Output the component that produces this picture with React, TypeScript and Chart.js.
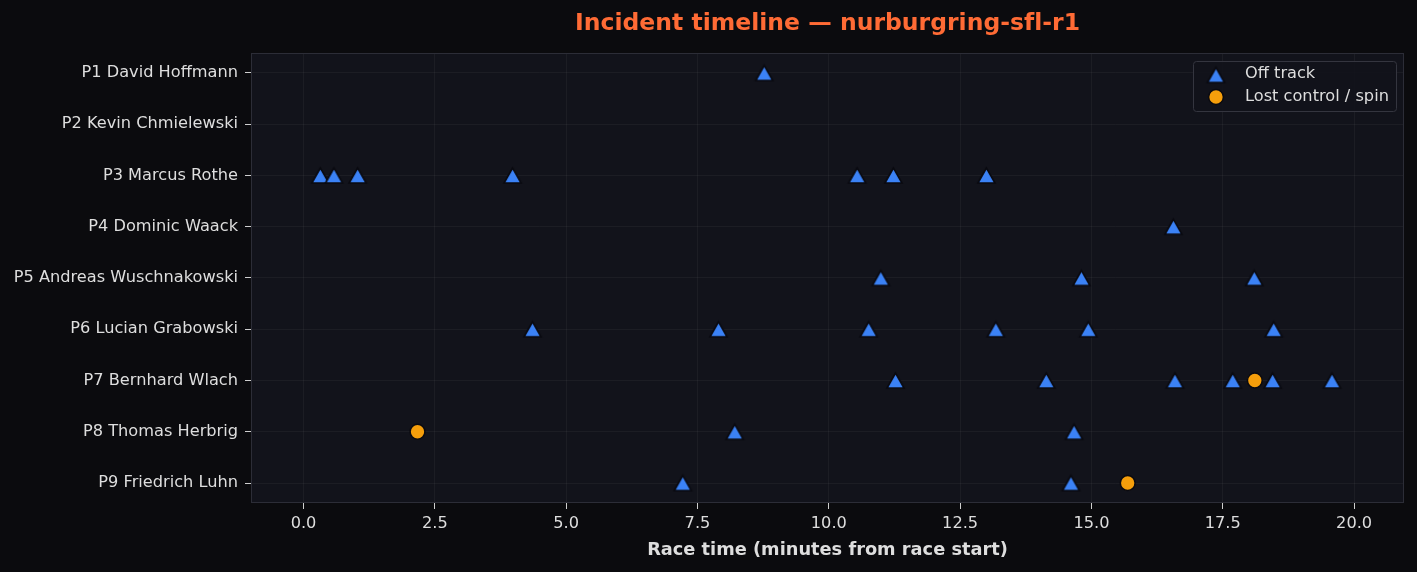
import React, { useEffect, useRef } from 'react';
import { Chart, registerables } from 'chart.js';

Chart.register(...registerables);

const drivers = [
  'P1 David Hoffmann',
  'P2 Kevin Chmielewski',
  'P3 Marcus Rothe',
  'P4 Dominic Waack',
  'P5 Andreas Wuschnakowski',
  'P6 Lucian Grabowski',
  'P7 Bernhard Wlach',
  'P8 Thomas Herbrig',
  'P9 Friedrich Luhn',
];

// minutes from race start, one list per driver (same order as drivers)
const offTrackTimes: number[][] = [
  [8.77],
  [],
  [0.32, 0.58, 1.03, 3.98, 10.54, 11.23, 13.0],
  [16.56],
  [10.99, 14.81, 18.1],
  [4.36, 7.9, 10.76, 13.18, 14.94, 18.47],
  [11.27, 14.14, 16.59, 17.69, 18.45, 19.58],
  [8.21, 14.67],
  [7.22, 14.61],
];

const spinTimes: number[][] = [[], [], [], [], [], [], [18.11], [2.17], [15.69]];

const xTicks = [0, 2.5, 5, 7.5, 10, 12.5, 15, 17.5, 20];
const xMin = -1.0;
const xMax = 20.95;

const seriesLabels = ['Off track', 'Lost control / spin'];
const titleText = 'Incident timeline \u2014 nurburgring-sfl-r1';
const xTitle = 'Race time (minutes from race start)';

const BLUE = '#3b82f6';
const ORANGE = '#f59e0b';
const PAGE_BG = '#0b0b0e';
const PLOT_BG = '#12131b';
const EDGE = '#0a0a10';
const TEXT = '#dedede';
const FONT = "'DejaVu Sans', sans-serif";

function toPoints(lists: number[][]) {
  const pts: { x: number; y: number }[] = [];
  lists.forEach((l, i) => l.forEach((x) => pts.push({ x, y: i })));
  return pts;
}

function makeTriangle(w: number, h: number): HTMLCanvasElement {
  const c = document.createElement('canvas');
  const pad = 3;
  c.width = w + pad * 2;
  c.height = h + pad * 2;
  const g = c.getContext('2d')!;
  const cx = c.width / 2;
  const cy = c.height / 2;
  g.beginPath();
  g.moveTo(cx, cy - h / 2);
  g.lineTo(cx - w / 2, cy + h / 2);
  g.lineTo(cx + w / 2, cy + h / 2);
  g.closePath();
  g.fillStyle = BLUE;
  g.fill();
  g.lineJoin = 'miter';
  g.strokeStyle = EDGE;
  g.lineWidth = 1.6;
  g.stroke();
  return c;
}

function makeDecor(tri: HTMLCanvasElement) {
  return {
    id: 'decor',
    beforeDraw(chart: any) {
      const { ctx, chartArea: a, width, height } = chart;
      ctx.save();
      ctx.fillStyle = PAGE_BG;
      ctx.fillRect(0, 0, width, height);
      ctx.fillStyle = PLOT_BG;
      ctx.fillRect(a.left, a.top, a.right - a.left, a.bottom - a.top);
      ctx.restore();
    },
    afterDraw(chart: any) {
      const { ctx, chartArea: a } = chart;
      ctx.save();
      // spines
      ctx.strokeStyle = '#2c2d37';
      ctx.lineWidth = 1;
      ctx.strokeRect(a.left + 0.5, a.top + 0.5, a.right - a.left - 1, a.bottom - a.top - 1);
      // title
      ctx.fillStyle = '#ff6b35';
      ctx.font = `bold 23.5px ${FONT}`;
      try {
        (ctx as any).letterSpacing = '0.01px';
      } catch (e) {}
      ctx.textAlign = 'center';
      ctx.textBaseline = 'middle';
      ctx.fillText(titleText, (a.left + a.right) / 2, 24);
      try {
        (ctx as any).letterSpacing = '0px';
      } catch (e) {}
      // legend
      const bx = a.right - 211;
      const by = a.top + 8;
      const bw = 203;
      const bh = 50;
      ctx.beginPath();
      ctx.roundRect(bx + 0.5, by + 0.5, bw, bh, 3);
      ctx.fillStyle = 'rgba(18,19,27,0.9)';
      ctx.fill();
      ctx.strokeStyle = '#34353f';
      ctx.lineWidth = 1;
      ctx.stroke();
      const mx = bx + 23;
      const y1 = by + 14;
      const y2 = by + 36;
      ctx.drawImage(tri, mx - tri.width / 2, y1 - tri.height / 2);
      ctx.beginPath();
      ctx.arc(mx, y2, 7.4, 0, Math.PI * 2);
      ctx.fillStyle = ORANGE;
      ctx.fill();
      ctx.strokeStyle = EDGE;
      ctx.lineWidth = 1.5;
      ctx.stroke();
      ctx.fillStyle = TEXT;
      ctx.font = `16.2px ${FONT}`;
      ctx.textAlign = 'left';
      ctx.textBaseline = 'middle';
      ctx.fillText(seriesLabels[0], bx + 52, y1 - 1);
      ctx.fillText(seriesLabels[1], bx + 52, y2);
      ctx.restore();
    },
  };
}

export default function App() {
  const ref = useRef<HTMLCanvasElement | null>(null);

  useEffect(() => {
    document.body.style.margin = '0';
    document.body.style.background = PAGE_BG;
    const canvas = ref.current;
    if (!canvas) return;
    const tri = makeTriangle(17, 15);
    const chart = new Chart(canvas, {
      type: 'scatter',
      data: {
        datasets: [
          {
            label: seriesLabels[0],
            data: toPoints(offTrackTimes),
            pointStyle: tri,
            pointRadius: 9,
            pointHoverRadius: 9,
            backgroundColor: BLUE,
            borderColor: EDGE,
            borderWidth: 1.6,
          },
          {
            label: seriesLabels[1],
            data: toPoints(spinTimes),
            pointStyle: 'circle',
            pointRadius: 7.4,
            pointHoverRadius: 7.4,
            backgroundColor: ORANGE,
            borderColor: EDGE,
            borderWidth: 1.5,
          },
        ],
      },
      options: {
        animation: false,
        responsive: false,
        devicePixelRatio: 1,
        layout: { padding: { top: 53, right: 13, left: 0, bottom: 0 } },
        plugins: {
          legend: { display: false },
          title: { display: false },
          tooltip: { enabled: false },
        },
        scales: {
          x: {
            type: 'linear',
            min: xMin,
            max: xMax,
            afterBuildTicks: (s: any) => {
              s.ticks = xTicks.map((v) => ({ value: v }));
            },
            afterFit: (s: any) => {
              s.height = 69;
            },
            grid: {
              color: 'rgba(255,255,255,0.045)',
              tickColor: '#cfcfcf',
              tickLength: 6,
              lineWidth: 1,
            },
            border: { display: false },
            ticks: {
              color: TEXT,
              font: { family: FONT, size: 16.2 },
              padding: 5,
              maxRotation: 0,
              callback: (v: any) => Number(v).toFixed(1),
            },
            title: {
              display: true,
              text: xTitle,
              color: TEXT,
              font: { family: FONT, size: 17.8, weight: 'bold' },
              padding: { top: 0, bottom: 11 },
            },
          },
          y: {
            type: 'linear',
            reverse: true,
            min: -0.39,
            max: drivers.length - 1 + 0.39,
            afterBuildTicks: (s: any) => {
              s.ticks = drivers.map((_, i) => ({ value: i }));
            },
            afterFit: (s: any) => {
              s.width = 251;
            },
            grid: {
              color: 'rgba(255,255,255,0.045)',
              tickColor: '#cfcfcf',
              tickLength: 6,
              lineWidth: 1,
            },
            border: { display: false },
            ticks: {
              color: TEXT,
              font: { family: FONT, size: 16.2 },
              padding: 7,
              callback: (v: any) => drivers[Number(v)] ?? '',
            },
          },
        },
      },
      plugins: [makeDecor(tri)],
    } as any);
    return () => chart.destroy();
  }, []);

  return (
    <div style={{ width: 1417, height: 572, background: PAGE_BG }}>
      <canvas ref={ref} width={1417} height={572} style={{ display: 'block' }} />
    </div>
  );
}
